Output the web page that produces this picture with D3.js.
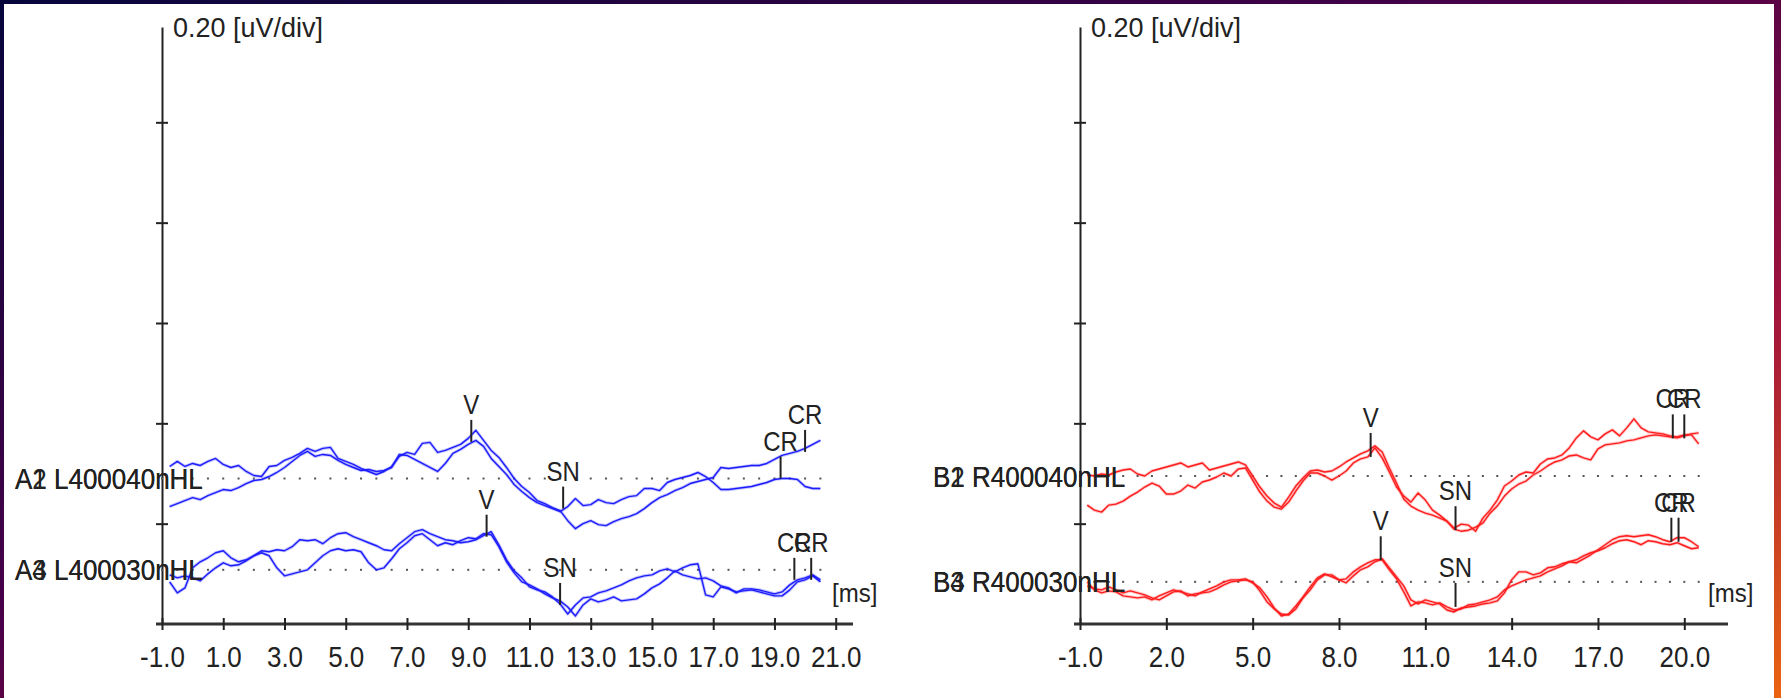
<!DOCTYPE html>
<html>
<head>
<meta charset="utf-8">
<script src="https://cdn.jsdelivr.net/npm/d3@7"></script>
<style>
  html, body { margin: 0; padding: 0; background: #fff; overflow: hidden; }
  svg { display: block; }
  text { font-family: "Liberation Sans", Arial, sans-serif; fill: #222; }
</style>
</head>
<body>
<svg id="chart" width="1781" height="698"></svg>
<script>
// ---- data ----
// samples start at -0.75 ms, one every 0.25 ms (uV, relative to each trace's baseline)
const sampleStart = -0.75;
const sampleStep = 0.25;

const leftTicks = [-1, 1, 3, 5, 7, 9, 11, 13, 15, 17, 19, 21];
const rightTicks = [-1, 2, 5, 8, 11, 14, 17, 20];
const yTicks = [0.2, 0.4, 0.6, 0.8, 1.0];
const scaleLabel = '0.20 [uV/div]';
const unitLabel = '[ms]';

const leftLabels = [['A1 L400040nHL', 'A2 L400040nHL'], ['A3 L400030nHL', 'A4 L400030nHL']];
const rightLabels = [['B1 R400040nHL', 'B2 R400040nHL'], ['B3 R400030nHL', 'B4 R400030nHL']];
const leftOffsets = [0.290, 0.108];
const rightOffsets = [0.295, 0.084];

const a1 = [
  0.024, 0.034, 0.024, 0.030, 0.026, 0.034, 0.040, 0.028, 0.022, 0.026,
  0.014, 0.006, 0.004, 0.024, 0.026, 0.036, 0.042, 0.050, 0.060, 0.054,
  0.060, 0.062, 0.040, 0.034, 0.028, 0.020, 0.014, 0.008, 0.014, 0.024,
  0.044, 0.052, 0.048, 0.070, 0.072, 0.052, 0.056, 0.062, 0.068, 0.080,
  0.096, 0.076, 0.056, 0.042, 0.022, 0.000, -0.016, -0.028, -0.044, -0.050,
  -0.058, -0.064, -0.084, -0.100, -0.090, -0.084, -0.092, -0.094, -0.086, -0.080,
  -0.076, -0.070, -0.060, -0.048, -0.038, -0.032, -0.024, -0.018, -0.010, -0.006,
  -0.002, 0.002, 0.022, 0.020, 0.022, 0.024, 0.026, 0.026, 0.030, 0.038,
  0.046, 0.050, 0.054, 0.060, 0.068, 0.076
];
const a2 = [
  -0.056, -0.050, -0.044, -0.038, -0.042, -0.034, -0.028, -0.022, -0.024, -0.018,
  -0.010, -0.004, -0.002, 0.004, 0.012, 0.022, 0.034, 0.046, 0.054, 0.044,
  0.048, 0.046, 0.036, 0.028, 0.022, 0.016, 0.018, 0.014, 0.016, 0.022,
  0.048, 0.046, 0.038, 0.030, 0.022, 0.014, 0.030, 0.050, 0.058, 0.068,
  0.076, 0.064, 0.040, 0.024, 0.008, -0.012, -0.026, -0.038, -0.048, -0.054,
  -0.060, -0.066, -0.056, -0.040, -0.054, -0.052, -0.042, -0.048, -0.050, -0.042,
  -0.036, -0.034, -0.020, -0.020, -0.024, -0.008, -0.002, 0.002, 0.006, 0.012,
  0.004, -0.008, -0.022, -0.022, -0.020, -0.018, -0.016, -0.012, -0.008, -0.002,
  0.000, 0.000, -0.002, -0.016, -0.020, -0.020
];
const a3 = [
  -0.024, -0.046, -0.036, 0.004, 0.016, 0.024, 0.034, 0.038, 0.024, 0.016,
  0.020, 0.028, 0.038, 0.036, 0.040, 0.038, 0.046, 0.060, 0.058, 0.060,
  0.052, 0.064, 0.072, 0.074, 0.066, 0.060, 0.054, 0.048, 0.040, 0.038,
  0.052, 0.064, 0.076, 0.080, 0.072, 0.066, 0.060, 0.058, 0.054, 0.056,
  0.060, 0.068, 0.076, 0.050, 0.020, -0.002, -0.016, -0.034, -0.040, -0.044,
  -0.054, -0.068, -0.088, -0.070, -0.056, -0.054, -0.046, -0.042, -0.036, -0.030,
  -0.022, -0.016, -0.012, -0.010, -0.002, 0.002, -0.004, 0.004, 0.010, 0.012,
  -0.050, -0.054, -0.034, -0.038, -0.044, -0.042, -0.040, -0.044, -0.048, -0.052,
  -0.052, -0.040, -0.024, -0.020, -0.012, -0.024
];
const a4 = [
  -0.010, -0.016, -0.012, -0.016, -0.022, -0.008, 0.004, 0.014, 0.008, 0.010,
  0.018, 0.028, 0.034, 0.028, 0.004, -0.012, -0.008, -0.004, 0.000, 0.014,
  0.028, 0.038, 0.042, 0.038, 0.040, 0.036, 0.014, 0.000, 0.004, 0.022,
  0.042, 0.054, 0.068, 0.072, 0.060, 0.048, 0.054, 0.050, 0.058, 0.064,
  0.062, 0.072, 0.070, 0.046, 0.016, -0.006, -0.024, -0.030, -0.038, -0.048,
  -0.056, -0.062, -0.074, -0.092, -0.070, -0.058, -0.064, -0.060, -0.054, -0.062,
  -0.060, -0.058, -0.048, -0.036, -0.028, -0.016, -0.002, -0.010, -0.014, -0.018,
  -0.016, -0.022, -0.032, -0.036, -0.046, -0.038, -0.038, -0.040, -0.044, -0.048,
  -0.044, -0.030, -0.020, -0.016, -0.010, -0.020
];
const b1 = [
  -0.058, -0.068, -0.072, -0.058, -0.056, -0.050, -0.040, -0.032, -0.022, -0.014,
  -0.020, -0.036, -0.036, -0.030, -0.018, -0.024, -0.012, -0.008, -0.002, 0.006,
  0.000, 0.014, 0.016, -0.008, -0.032, -0.050, -0.062, -0.066, -0.052, -0.030,
  -0.010, 0.006, 0.006, 0.000, -0.008, 0.000, 0.010, 0.026, 0.034, 0.038,
  0.056, 0.036, 0.008, -0.022, -0.040, -0.052, -0.034, -0.048, -0.068, -0.078,
  -0.090, -0.104, -0.096, -0.098, -0.110, -0.084, -0.068, -0.048, -0.020, -0.010,
  0.002, 0.008, 0.006, 0.024, 0.034, 0.036, 0.042, 0.056, 0.076, 0.090,
  0.078, 0.072, 0.084, 0.092, 0.080, 0.096, 0.114, 0.096, 0.088, 0.086,
  0.084, 0.080, 0.078, 0.082, 0.082, 0.064
];
const b2 = [
  0.002, 0.000, 0.004, 0.002, 0.008, 0.012, 0.014, 0.004, 0.000, 0.010,
  0.014, 0.018, 0.022, 0.026, 0.018, 0.022, 0.026, 0.012, 0.016, 0.020,
  0.024, 0.028, 0.022, 0.000, -0.022, -0.040, -0.054, -0.062, -0.042, -0.020,
  -0.004, 0.010, 0.012, 0.008, 0.010, 0.018, 0.028, 0.036, 0.044, 0.050,
  0.060, 0.048, 0.016, -0.014, -0.046, -0.060, -0.068, -0.074, -0.078, -0.084,
  -0.090, -0.106, -0.110, -0.108, -0.102, -0.094, -0.074, -0.060, -0.040, -0.026,
  -0.016, -0.010, 0.002, 0.010, 0.020, 0.028, 0.032, 0.040, 0.042, 0.036,
  0.032, 0.054, 0.062, 0.064, 0.066, 0.070, 0.072, 0.076, 0.080, 0.082,
  0.080, 0.078, 0.076, 0.080, 0.084, 0.086
];
const b3 = [
  -0.008, -0.014, -0.016, -0.010, -0.016, -0.022, -0.018, -0.022, -0.026, -0.032,
  -0.036, -0.028, -0.020, -0.018, -0.028, -0.024, -0.022, -0.020, -0.014, -0.006,
  0.000, 0.002, 0.004, 0.000, -0.018, -0.040, -0.054, -0.064, -0.066, -0.054,
  -0.032, -0.016, 0.004, 0.014, 0.014, 0.004, -0.002, 0.012, 0.024, 0.030,
  0.040, 0.046, 0.028, 0.010, -0.008, -0.036, -0.044, -0.036, -0.040, -0.044,
  -0.056, -0.060, -0.052, -0.050, -0.048, -0.044, -0.042, -0.038, -0.022, 0.004,
  0.020, 0.020, 0.014, 0.018, 0.028, 0.030, 0.036, 0.040, 0.038, 0.046,
  0.054, 0.064, 0.074, 0.084, 0.090, 0.092, 0.090, 0.092, 0.094, 0.090,
  0.084, 0.080, 0.088, 0.088, 0.080, 0.070
];
const b4 = [
  0.000, -0.016, -0.022, -0.018, -0.020, -0.028, -0.030, -0.032, -0.030, -0.036,
  -0.028, -0.022, -0.016, -0.020, -0.024, -0.028, -0.020, -0.014, -0.008, 0.000,
  0.004, 0.004, 0.006, -0.002, -0.012, -0.030, -0.052, -0.068, -0.064, -0.048,
  -0.030, -0.010, 0.008, 0.016, 0.010, 0.004, 0.006, 0.020, 0.030, 0.038,
  0.044, 0.044, 0.024, 0.006, -0.020, -0.048, -0.040, -0.042, -0.046, -0.042,
  -0.050, -0.056, -0.054, -0.046, -0.044, -0.040, -0.036, -0.030, -0.016, -0.008,
  -0.002, 0.004, 0.008, 0.012, 0.020, 0.026, 0.032, 0.040, 0.044, 0.052,
  0.058, 0.062, 0.068, 0.076, 0.082, 0.084, 0.080, 0.074, 0.082, 0.080,
  0.076, 0.074, 0.078, 0.072, 0.066, 0.068
];

// peak markers: latency (ms) and amplitude (uV) relative to the pair baseline
const leftMarkers = [
  [{ name: 'V', t: 9.1, v: 0.073 }, { name: 'SN', t: 12.1, v: -0.060 },
   { name: 'CR', t: 19.2, v: 0.000 }, { name: 'CR', t: 20.0, v: 0.053 }],
  [{ name: 'V', t: 9.6, v: 0.066 }, { name: 'SN', t: 12.0, v: -0.070 },
   { name: 'CR', t: 19.65, v: -0.020 }, { name: 'CR', t: 20.2, v: -0.020 }]
];
const rightMarkers = [
  [{ name: 'V', t: 9.1, v: 0.038 }, { name: 'SN', t: 12.05, v: -0.108 },
   { name: 'CR', t: 19.6, v: 0.075 }, { name: 'CR', t: 20.0, v: 0.075 }],
  [{ name: 'V', t: 9.45, v: 0.043 }, { name: 'SN', t: 12.05, v: -0.050 },
   { name: 'CR', t: 19.55, v: 0.080 }, { name: 'CR', t: 19.8, v: 0.080 }]
];

// ---- drawing ----
const width = 1781, height = 698;
const svg = d3.select('#chart');

// window frame gradient
const defs = svg.append('defs');
const grad = defs.append('linearGradient').attr('id', 'frame')
  .attr('x1', 0).attr('y1', 0).attr('x2', 1).attr('y2', 1);
grad.append('stop').attr('offset', '0%').attr('stop-color', '#06063a');
grad.append('stop').attr('offset', '45%').attr('stop-color', '#4a0048');
grad.append('stop').attr('offset', '72%').attr('stop-color', '#a0123c');
grad.append('stop').attr('offset', '100%').attr('stop-color', '#ea6410');
svg.append('rect').attr('width', width).attr('height', height).attr('fill', 'url(#frame)');
svg.append('rect').attr('x', 4).attr('y', 4).attr('width', 1770).attr('height', height - 4).attr('fill', '#fff');

const y = d3.scaleLinear().domain([0, 1.19]).range([624, 27]);

const panels = [
  { left: 162, right: 835.7, domain: [-1, 21], ticks: leftTicks, color: '#1c1cff',
    traces: [[a1, a2], [a3, a4]], offsets: leftOffsets, labels: leftLabels,
    markers: leftMarkers, markLen: 22, axisEnd: 853, unitX: 832 },
  { left: 1080, right: 1684.3, domain: [-1, 20], ticks: rightTicks, color: '#ff1c1c',
    traces: [[b1, b2], [b3, b4]], offsets: rightOffsets, labels: rightLabels,
    markers: rightMarkers, markLen: 24, axisEnd: 1728, unitX: 1708 }
];

// text with the tall look of the original bitmap font
function tallText(g, x, yy, str, size, anchor, sy) {
  return g.append('text')
    .attr('transform', `translate(${x},${yy}) scale(1,${sy})`)
    .attr('text-anchor', anchor)
    .style('font-size', size + 'px')
    .text(str);
}

panels.forEach(p => {
  const x = d3.scaleLinear().domain(p.domain).range([p.left, p.right]);
  const g = svg.append('g');

  // y axis
  const yAxis = g.append('g')
    .attr('transform', `translate(${p.left},0)`)
    .call(d3.axisLeft(y).tickValues(yTicks).tickFormat('').tickSize(6).tickSizeOuter(0));
  yAxis.select('.domain').attr('stroke', '#222').attr('stroke-width', 2);
  yAxis.selectAll('.tick line').attr('x1', 6).attr('stroke', '#222').attr('stroke-width', 2);

  // x axis
  g.append('line')
    .attr('x1', p.left - 6).attr('x2', p.axisEnd)
    .attr('y1', y(0)).attr('y2', y(0))
    .attr('stroke', '#333').attr('stroke-width', 3);
  const xAxis = g.append('g')
    .attr('transform', `translate(0,${y(0)})`)
    .call(d3.axisBottom(x).tickValues(p.ticks).tickFormat(d => d.toFixed(1)).tickSize(6));
  xAxis.select('.domain').remove();
  xAxis.selectAll('.tick line').attr('y1', -6).attr('stroke', '#222').attr('stroke-width', 2);
  xAxis.selectAll('.tick text')
    .attr('y', 0).attr('dy', 0)
    .attr('transform', 'translate(0,43) scale(1,1.12)')
    .attr('fill', '#222')
    .style('font-size', '26px')
    .style('font-family', '"Liberation Sans", Arial, sans-serif');

  tallText(g, p.left + 11, 37, scaleLabel, 27, 'start', 1);
  tallText(g, p.unitX, 602, unitLabel, 24, 'start', 1.1);

  const dotTimes = d3.range(p.domain[0], 20.6, 0.5);

  p.traces.forEach((pair, k) => {
    const off = p.offsets[k];

    // dotted baseline
    g.append('g').selectAll('rect')
      .data(dotTimes)
      .enter().append('rect')
      .attr('x', d => x(d) - 1).attr('y', y(off) - 1)
      .attr('width', 2).attr('height', 2)
      .attr('fill', '#555');

    const line = d3.line()
      .x((d, i) => x(sampleStart + i * sampleStep))
      .y(d => y(off + d));

    pair.forEach(series => {
      g.append('path').datum(series)
        .attr('d', line).attr('fill', 'none')
        .attr('stroke', p.color).attr('stroke-width', 3.2).attr('stroke-opacity', 0.25)
        .attr('stroke-linejoin', 'round');
      g.append('path').datum(series)
        .attr('d', line).attr('fill', 'none')
        .attr('stroke', p.color).attr('stroke-width', 1.4)
        .attr('stroke-linejoin', 'round');
    });

    // overprinted channel labels
    p.labels[k].forEach(str => {
      tallText(g, p.left - 147, y(off) + 10.5, str, 26, 'start', 1.15);
    });

    // peak markers
    p.markers[k].forEach(m => {
      const mx = x(m.t), my = y(off + m.v);
      g.append('line')
        .attr('x1', mx).attr('x2', mx)
        .attr('y1', my).attr('y2', my - p.markLen)
        .attr('stroke', '#222').attr('stroke-width', 2);
      tallText(g, mx, my - p.markLen - 6, m.name, 24, 'middle', 1.15);
    });
  });
});
</script>
</body>
</html>
